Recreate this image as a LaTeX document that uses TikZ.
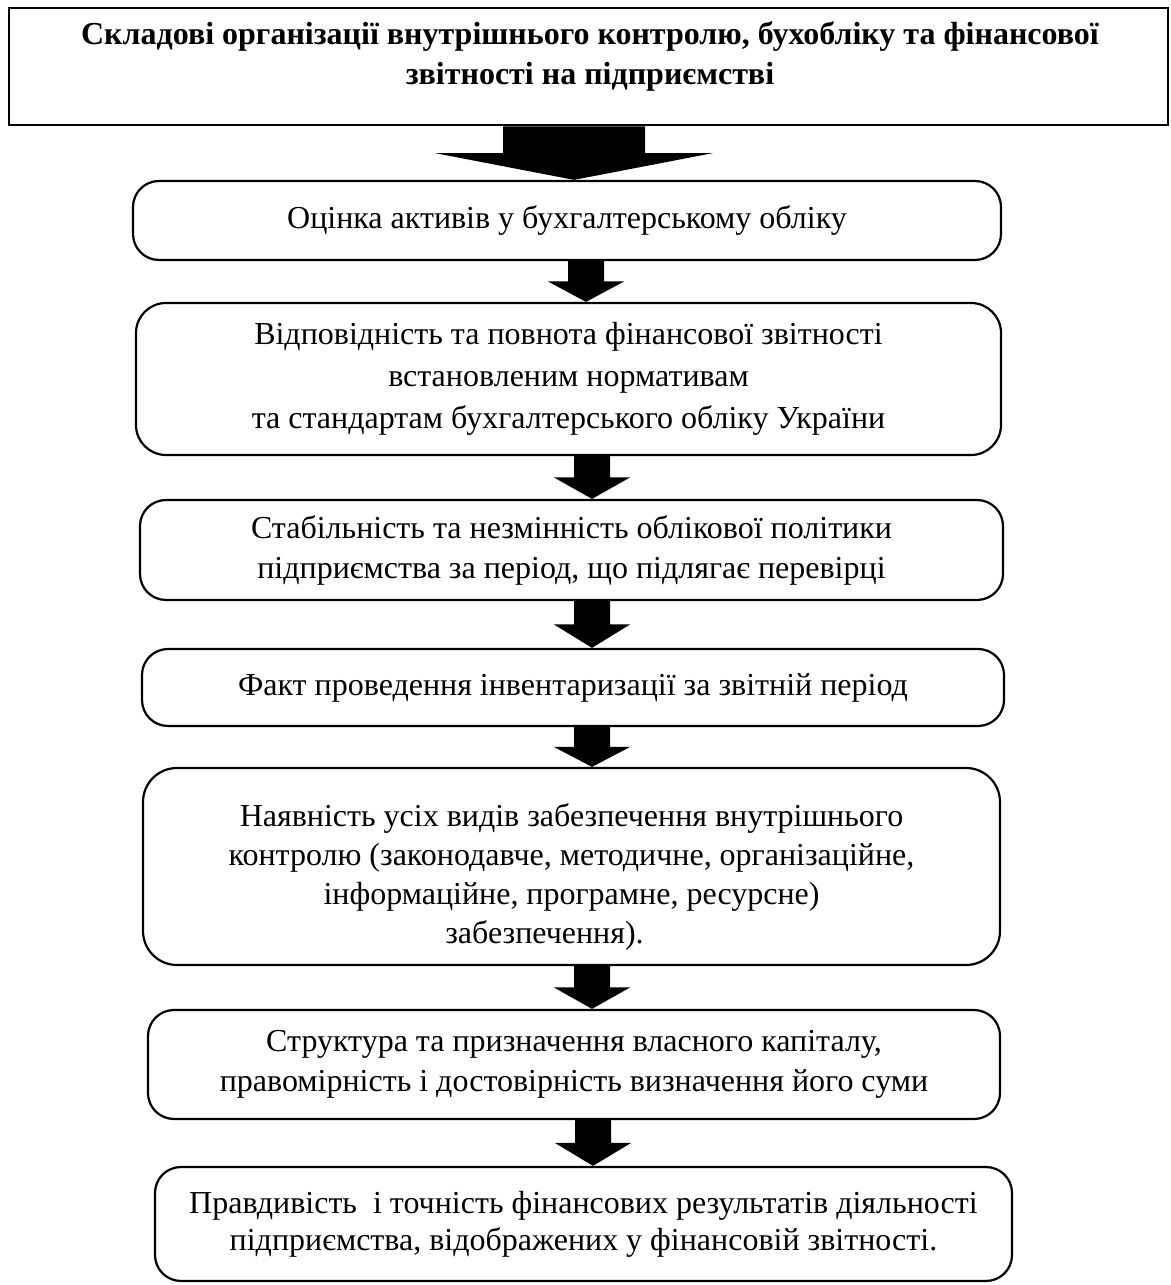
\documentclass[tikz,border=0pt]{standalone}
\usepackage{fontspec}
\setmainfont{Liberation Serif}
\usetikzlibrary{calc}
\tikzset{
  x=1pt,y=1pt,
  titlebox/.style={draw, line width=2.6pt, rectangle, inner sep=0pt},
  titletext/.style={align=center, inner sep=0pt, font=\fontsize{32}{40}\selectfont\bfseries},
  stagebox/.style={draw, line width=2.2pt, rectangle, rounded corners=26pt, inner sep=0pt,
    align=center, font=\fontsize{32}{40}\selectfont},
  blockarrow/.style={fill=black}
}
% #1 upper node, #2 lower node, #3 centre x, #4 half shaft, #5 half head
\newcommand\blockarr[5]{%
  \fill[blockarrow] let \p1=(#1.south), \p2=(#2.north), \n1={(\y1+\y2)/2} in
    ({#3-#4},\y1) -- ({#3+#4},\y1) -- ({#3+#4},\n1) -- ({#3+#5},\n1) -- (#3,\y2)
    -- ({#3-#5},\n1) -- ({#3-#4},\n1) -- cycle;}
\begin{document}
\begin{tikzpicture}
\useasboundingbox (0,0) rectangle (1170,1285);
\node[titlebox, minimum width=1159, minimum height=117] (t) at (588.5,1218.5) {};
\node[titletext] (tt) at (590,1229)
  {Складові організації внутрішнього контролю, бухобліку та фінансової\\звітності на підприємстві};
\node[stagebox, minimum width=868, minimum height=79] (b1) at (567,1064.5)
  {Оцінка активів у бухгалтерському обліку};
\node[stagebox, rounded corners=30pt, minimum width=865, minimum height=152,
  font=\fontsize{32}{42}\selectfont] (b2) at (568.5,906)
  {Відповідність та повнота фінансової звітності\\встановленим нормативам\\та стандартам бухгалтерського обліку України};
\node[stagebox, minimum width=863, minimum height=100] (b3) at (571.5,735)
  {Стабільність та незмінність облікової політики\\підприємства за період, що підлягає перевірці};
\node[stagebox, minimum width=862, minimum height=77] (b4) at (573,597.5)
  {Факт проведення інвентаризації за звітній період};
\node[stagebox, rounded corners=34pt, minimum width=857, minimum height=197,
  font=\fontsize{32}{39}\selectfont] (b5) at (571.5,418.5)
  {\rule{0pt}{43pt}Наявність усіх видів забезпечення внутрішнього\\контролю (законодавче, методичне, організаційне,\\інформаційне, програмне, ресурсне)\hspace*{54pt}\\забезпечення).\hspace*{54pt}};
\node[stagebox, minimum width=852, minimum height=109] (b6) at (574,220.5)
  {Структура та призначення власного капіталу,\\правомірність і достовірність визначення його суми};
\node[stagebox, minimum width=857, minimum height=114, font=\fontsize{32}{37}\selectfont] (b7) at (583.5,61)
  {Правдивість\ \ і точність фінансових результатів діяльності\\підприємства, відображених у фінансовій звітності.};
\blockarr{t}{b1}{574}{71}{139}
\blockarr{b1}{b2}{586}{18}{38}
\blockarr{b2}{b3}{592}{18}{38}
\blockarr{b3}{b4}{592}{18}{38}
\blockarr{b4}{b5}{592}{18}{38}
\blockarr{b5}{b6}{592}{18}{38}
\blockarr{b6}{b7}{593}{18}{38}
\end{tikzpicture}
\end{document}
